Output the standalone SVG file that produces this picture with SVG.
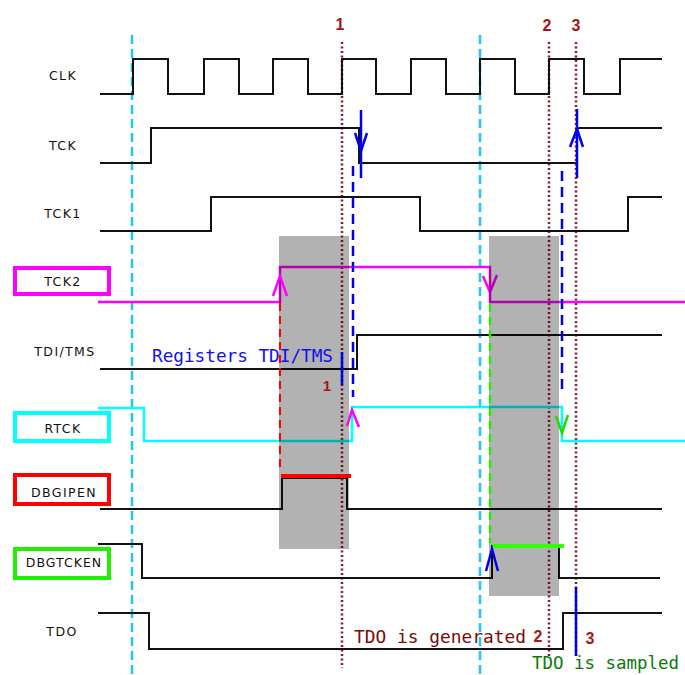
<svg xmlns="http://www.w3.org/2000/svg" width="685" height="675" viewBox="0 0 685 675">
<style>
  .lbl { font-family: "DejaVu Sans", "Liberation Sans", sans-serif; font-size: 12.5px; letter-spacing: 1.4px; fill: #111; text-anchor: middle; dominant-baseline: central; }
  .wave { fill: none; stroke: #111; stroke-width: 2; }
  .box { fill: none; stroke-width: 4; }
  .cyan-dash { stroke: #1ec8f0; stroke-width: 2.5; stroke-dasharray: 9 5; fill: none; }
  .dot { stroke: #8b1a2a; stroke-width: 2.5; stroke-dasharray: 2 2.5; fill: none; }
  .num { font-family: "Liberation Sans", "DejaVu Sans", sans-serif; font-weight: 700; font-size: 16px; fill: #a01818; text-anchor: middle; }
  .mono { font-family: "DejaVu Sans Mono", "Liberation Mono", monospace; font-size: 18.5px; }
  .blue { stroke: #0000ee; stroke-width: 2.5; fill: none; }
  .bdash { stroke: #0000ee; stroke-width: 2.5; stroke-dasharray: 10 6; fill: none; }
  .shade { fill: #000; fill-opacity: 0.3; }
</style>
<rect width="685" height="675" fill="#fff"/>

<!-- reference dashed lines -->
<g id="guides">
  <line class="cyan-dash" x1="132" y1="35" x2="132" y2="675"/>
  <line class="cyan-dash" x1="480" y1="35" x2="480" y2="675"/>
  <line class="dot" x1="342" y1="42" x2="342" y2="668"/>
  <line class="dot" x1="549" y1="42" x2="549" y2="657"/>
  <line class="dot" x1="576" y1="42" x2="576" y2="657"/>
  <text class="num" x="340" y="30">1</text>
  <text class="num" x="547" y="31">2</text>
  <text class="num" x="576" y="31">3</text>
</g>

<g id="sig-clk">
  <text class="lbl" x="63" y="75">CLK</text>
  <path class="wave" d="M100,94 H133 V59 H168 V94 H204 V59 H239 V94 H273 V59 H308 V94 H342 V59 H376 V94 H411 V59 H446 V94 H480 V59 H515 V94 H549 V59 H584 V94 H620 V59 H662"/>
</g>
<g id="sig-tck">
  <text class="lbl" x="63" y="145">TCK</text>
  <path class="wave" d="M100,163 H151 V128 H359 V163 H577 V128 H662"/>
</g>
<g id="sig-tck1">
  <text class="lbl" x="63" y="213">TCK1</text>
  <path class="wave" d="M100,231 H211 V197 H420 V231 H628 V197 H662"/>
</g>
<g id="sig-tck2">
  <rect class="box" x="15" y="268" width="94" height="26" stroke="#ff00ff"/>
  <text class="lbl" x="63" y="281">TCK2</text>
  <path class="wave" style="stroke:#ff00ff;stroke-width:2.5" d="M98,302 H280 V267 H490 V302 H685"/>
  <polyline fill="none" stroke="#ff00ff" stroke-width="2.5" points="483,276 490,292 497,275"/>
</g>
<g id="sig-tdi">
  <text class="lbl" x="65" y="351">TDI/TMS</text>
  <path class="wave" d="M100,369 H357 V335 H662"/>
</g>
<g id="sig-rtck">
  <rect class="box" x="15" y="413" width="94" height="28" stroke="#00ffff"/>
  <text class="lbl" x="63" y="428">RTCK</text>
  <path class="wave" style="stroke:#00ffff;stroke-width:2.5" d="M98,408 H144 V441 H352 V407 H562 V441 H685"/>
</g>
<g id="sig-dbgipen">
  <rect class="box" x="15" y="475" width="94" height="29" stroke="#ff0000"/>
  <text class="lbl" x="64" y="492">DBGIPEN</text>
  <path class="wave" d="M100,509 H282 V478 H347 V509 H662"/>
</g>
<g id="sig-dbgtcken">
  <rect class="box" x="15" y="549" width="94" height="29" stroke="#22ee00"/>
  <text class="lbl" x="64" y="562" style="letter-spacing:1px">DBGTCKEN</text>
  <path class="wave" d="M98,544 H142 V578 H492 V546 H559 V578 H660"/>
</g>
<g id="sig-tdo">
  <text class="lbl" x="62" y="631">TDO</text>
  <path class="wave" d="M98,613 H149 V649 H563 V613 H662"/>
</g>

<!-- shaded windows -->
<g id="windows">
  <rect class="shade" x="279" y="236" width="70" height="313"/>
  <rect class="shade" x="489" y="236" width="70" height="360"/>
</g>

<g id="connectors">
  <line class="blue" x1="361" y1="110" x2="361" y2="178"/>
  <polyline class="blue" points="355,133 361,151 367,133"/>
  <line class="blue" x1="577" y1="109" x2="577" y2="178"/>
  <polyline class="blue" points="570,147 577,129 583,147"/>
  <line class="bdash" x1="353" y1="166" x2="353" y2="397"/>
  <line class="bdash" x1="562" y1="171" x2="562" y2="395"/>
  <polyline fill="none" stroke="#ff00ff" stroke-width="2.5" points="273,296 280,276 287,296"/>
  <line x1="280" y1="303" x2="280" y2="472" stroke="#ff0000" stroke-width="2" stroke-dasharray="8 5"/>
  <line x1="281" y1="476" x2="351" y2="476" stroke="#ff0000" stroke-width="4"/>
  <line x1="490" y1="304" x2="490" y2="543" stroke="#22ee00" stroke-width="2.5" stroke-dasharray="8 5"/>
  <line x1="492" y1="546" x2="564" y2="546" stroke="#33ff00" stroke-width="4"/>
  <polyline fill="none" stroke="#ff00ff" stroke-width="2.5" points="347,426 352,410 359,427"/>
  <polyline fill="none" stroke="#22dd00" stroke-width="2.5" points="556,416 562,433 568,415"/>
  <polyline class="blue" points="486,571 492,549 498,571"/>
  <line class="blue" x1="342" y1="352" x2="342" y2="385"/>
  <text class="num" x="327" y="391" style="font-size:15px">1</text>
  <line class="blue" x1="576" y1="587" x2="576" y2="656"/>
  <text class="num" x="538" y="642">2</text>
  <text class="num" x="590" y="644">3</text>
</g>

<g id="notes">
  <text class="mono" x="152" y="362" fill="#1010ee" textLength="181" lengthAdjust="spacingAndGlyphs">Registers TDI/TMS</text>
  <text class="mono" x="354" y="643" fill="#7a0a0a" textLength="172" lengthAdjust="spacingAndGlyphs">TDO is generated</text>
  <text class="mono" x="532" y="669" fill="#0a7a0a" style="font-size:17.5px" textLength="147" lengthAdjust="spacingAndGlyphs">TDO is sampled</text>
</g>
</svg>
